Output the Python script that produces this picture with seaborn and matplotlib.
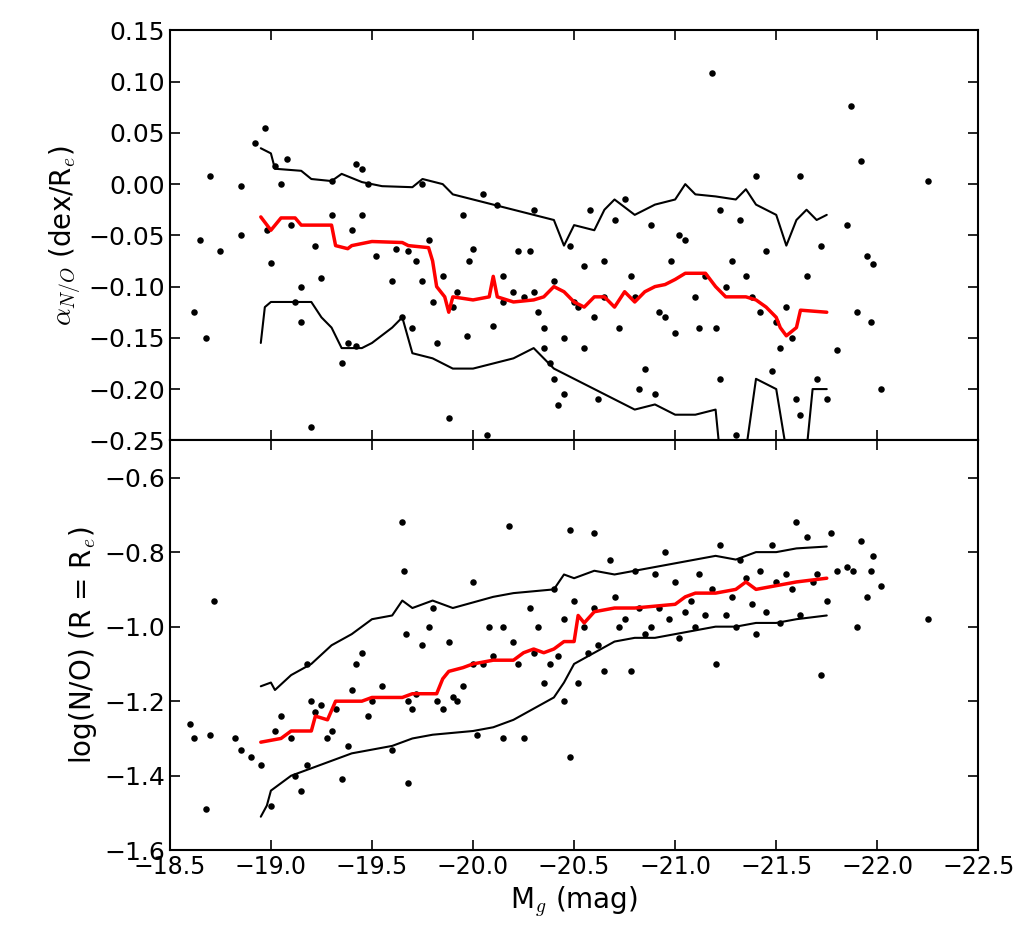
import matplotlib
matplotlib.use("Agg")
import matplotlib.pyplot as plt
import numpy as np
import seaborn as sns

# top panel scatter: M_g, alpha_N/O
top_x = [-18.62, -18.65, -18.68, -18.7, -18.75, -18.85, -18.85, -18.92, -18.97, -18.98, -19.0, -19.02, -19.05,
         -19.08, -19.1, -19.12, -19.15, -19.15, -19.2, -19.22, -19.25, -19.3, -19.3, -19.35, -19.38, -19.4, -19.42,
         -19.42, -19.45, -19.45, -19.48, -19.52, -19.6, -19.62, -19.65, -19.68, -19.7, -19.72, -19.75, -19.75,
         -19.78, -19.8, -19.82, -19.85, -19.88, -19.9, -19.92, -19.95, -19.97, -19.98, -20.0, -20.05, -20.07,
         -20.1, -20.12, -20.15, -20.15, -20.2, -20.22, -20.25, -20.28, -20.3, -20.3, -20.32, -20.35, -20.35,
         -20.38, -20.4, -20.4, -20.42, -20.45, -20.45, -20.48, -20.5, -20.52, -20.55, -20.55, -20.58, -20.6,
         -20.62, -20.65, -20.65, -20.7, -20.72, -20.75, -20.78, -20.8, -20.82, -20.85, -20.88, -20.9, -20.92,
         -20.95, -20.98, -21.0, -21.02, -21.05, -21.1, -21.12, -21.15, -21.18, -21.2, -21.22, -21.25, -21.28,
         -21.3, -21.32, -21.35, -21.38, -21.4, -21.42, -21.45, -21.48, -21.5, -21.52, -21.55, -21.58, -21.6,
         -21.62, -21.65, -21.7, -21.72, -21.75, -21.8, -21.85, -21.87, -21.9, -21.92, -21.95, -21.97, -21.98,
         -22.02, -22.25, -21.62, -21.22]
top_y = [-0.125, -0.055, -0.15, 0.008, -0.065, -0.002, -0.05, 0.04, 0.055, -0.045, -0.077, 0.018, 0.0,
         0.025, -0.04, -0.115, -0.1, -0.135, -0.237, -0.06, -0.092, -0.03, 0.003, -0.175, -0.155, -0.045, -0.158,
         0.02, 0.015, -0.03, 0.0, -0.07, -0.095, -0.063, -0.13, -0.065, -0.14, -0.075, 0.0, -0.095,
         -0.055, -0.115, -0.155, -0.09, -0.228, -0.12, -0.105, -0.03, -0.148, -0.075, -0.063, -0.01, -0.245,
         -0.138, -0.02, -0.09, -0.115, -0.105, -0.065, -0.11, -0.065, -0.105, -0.025, -0.125, -0.16, -0.14,
         -0.175, -0.095, -0.19, -0.216, -0.15, -0.205, -0.06, -0.115, -0.12, -0.16, -0.08, -0.025, -0.13,
         -0.21, -0.075, -0.11, -0.035, -0.14, -0.015, -0.09, -0.11, -0.2, -0.18, -0.04, -0.205, -0.125,
         -0.13, -0.075, -0.145, -0.05, -0.055, -0.11, -0.14, -0.09, 0.108, -0.14, -0.025, -0.1, -0.075,
         -0.245, -0.035, -0.09, -0.11, 0.008, -0.125, -0.065, -0.182, -0.135, -0.16, -0.12, -0.15, -0.21,
         0.008, -0.09, -0.19, -0.06, -0.21, -0.162, -0.04, 0.076, -0.125, 0.023, -0.07, -0.135, -0.078,
         -0.2, 0.003, -0.225, -0.19]

# top running median and envelopes
top_med_x = [-18.95, -19.0, -19.05, -19.12, -19.15, -19.3, -19.32, -19.38, -19.4, -19.45, -19.5, -19.65, -19.68,
             -19.78, -19.8, -19.82, -19.86, -19.88, -19.9, -20.0, -20.08, -20.1, -20.12, -20.2, -20.3, -20.35,
             -20.4, -20.45, -20.5, -20.55, -20.6, -20.65, -20.7, -20.75, -20.8, -20.85, -20.9, -20.95, -21.0,
             -21.05, -21.15, -21.2, -21.25, -21.35, -21.4, -21.45, -21.5, -21.52, -21.55, -21.6, -21.62, -21.75]
top_med_y = [-0.032, -0.045, -0.033, -0.033, -0.04, -0.04, -0.06, -0.063, -0.06, -0.058, -0.056, -0.057, -0.06,
             -0.062, -0.075, -0.1, -0.11, -0.125, -0.11, -0.113, -0.11, -0.09, -0.11, -0.115, -0.113, -0.11,
             -0.1, -0.105, -0.115, -0.12, -0.11, -0.11, -0.12, -0.105, -0.115, -0.105, -0.1, -0.098, -0.093,
             -0.087, -0.087, -0.1, -0.11, -0.11, -0.113, -0.12, -0.13, -0.14, -0.148, -0.14, -0.123, -0.125]
top_hi_x = [-18.95, -19.0, -19.02, -19.15, -19.2, -19.3, -19.35, -19.45, -19.55, -19.7, -19.75, -19.85, -19.9,
            -20.0, -20.1, -20.2, -20.3, -20.4, -20.45, -20.5, -20.6, -20.65, -20.7, -20.8, -20.9, -21.0, -21.05,
            -21.1, -21.2, -21.3, -21.35, -21.4, -21.5, -21.55, -21.6, -21.65, -21.7, -21.75]
top_hi_y = [0.035, 0.03, 0.015, 0.013, 0.005, 0.003, 0.01, 0.002, -0.002, -0.003, 0.005, 0.0, -0.01,
            -0.015, -0.02, -0.025, -0.03, -0.035, -0.06, -0.04, -0.045, -0.025, -0.015, -0.03, -0.02, -0.015, 0.0,
            -0.01, -0.012, -0.015, -0.005, -0.02, -0.03, -0.06, -0.035, -0.025, -0.035, -0.03]
top_lo_x = [-18.95, -18.97, -19.0, -19.2, -19.25, -19.3, -19.35, -19.45, -19.5, -19.6, -19.65, -19.7, -19.8,
            -19.9, -20.0, -20.1, -20.2, -20.3, -20.4, -20.5, -20.6, -20.7, -20.8, -20.9, -21.0, -21.1, -21.2,
            -21.22, -21.35, -21.4, -21.45, -21.5, -21.55, -21.65, -21.68, -21.75]
top_lo_y = [-0.155, -0.12, -0.115, -0.115, -0.13, -0.14, -0.16, -0.16, -0.155, -0.14, -0.13, -0.165, -0.17,
            -0.18, -0.18, -0.175, -0.17, -0.16, -0.18, -0.19, -0.2, -0.21, -0.22, -0.215, -0.225, -0.225, -0.22,
            -0.26, -0.26, -0.19, -0.195, -0.2, -0.26, -0.26, -0.2, -0.2]

# bottom panel scatter: M_g, log(N/O) at Re
bot_x = [-18.6, -18.62, -18.68, -18.7, -18.72, -18.82, -18.85, -18.9, -18.95, -19.0, -19.02, -19.05, -19.1,
         -19.12, -19.15, -19.18, -19.18, -19.2, -19.22, -19.25, -19.28, -19.3, -19.32, -19.35, -19.38, -19.4,
         -19.42, -19.45, -19.48, -19.5, -19.55, -19.6, -19.65, -19.66, -19.67, -19.68, -19.68, -19.7, -19.72,
         -19.75, -19.78, -19.8, -19.82, -19.85, -19.88, -19.9, -19.92, -19.95, -20.0, -20.0, -20.02, -20.05,
         -20.08, -20.1, -20.15, -20.15, -20.18, -20.2, -20.22, -20.25, -20.28, -20.3, -20.32, -20.35, -20.38,
         -20.4, -20.42, -20.45, -20.45, -20.48, -20.48, -20.5, -20.52, -20.55, -20.57, -20.6, -20.6, -20.62,
         -20.65, -20.68, -20.7, -20.72, -20.75, -20.78, -20.8, -20.82, -20.85, -20.88, -20.9, -20.92, -20.95,
         -20.97, -21.0, -21.02, -21.05, -21.08, -21.1, -21.12, -21.15, -21.18, -21.2, -21.22, -21.25, -21.28,
         -21.3, -21.32, -21.35, -21.38, -21.4, -21.42, -21.45, -21.48, -21.5, -21.52, -21.55, -21.58, -21.6,
         -21.62, -21.65, -21.68, -21.7, -21.72, -21.75, -21.77, -21.8, -21.85, -21.88, -21.9, -21.92, -21.95,
         -21.97, -21.98, -22.02, -22.25]
bot_y = [-1.26, -1.3, -1.49, -1.29, -0.93, -1.3, -1.33, -1.35, -1.37, -1.48, -1.28, -1.24, -1.3,
         -1.4, -1.44, -1.37, -1.1, -1.2, -1.23, -1.21, -1.3, -1.28, -1.22, -1.41, -1.32, -1.17,
         -1.1, -1.07, -1.24, -1.2, -1.16, -1.33, -0.72, -0.85, -1.02, -1.2, -1.42, -1.22, -1.18,
         -1.05, -1.0, -0.95, -1.2, -1.22, -1.04, -1.19, -1.2, -1.16, -0.88, -1.1, -1.29, -1.1,
         -1.0, -1.08, -1.0, -1.3, -0.73, -1.04, -1.1, -1.3, -0.95, -1.07, -1.0, -1.15, -1.1,
         -0.9, -1.08, -0.98, -1.2, -0.74, -1.35, -0.93, -1.15, -1.0, -1.07, -0.75, -0.95, -1.05,
         -1.12, -0.82, -0.92, -1.0, -0.98, -1.12, -0.85, -0.95, -1.02, -1.0, -0.86, -0.95, -0.8,
         -0.98, -0.88, -1.03, -0.96, -0.93, -1.0, -0.86, -0.97, -0.9, -1.1, -0.78, -0.97, -0.92,
         -1.0, -0.82, -0.87, -0.94, -1.02, -0.85, -0.96, -0.78, -0.88, -0.99, -0.86, -0.9, -0.72,
         -0.97, -0.76, -0.88, -0.86, -1.13, -0.93, -0.75, -0.85, -0.84, -0.85, -1.0, -0.77, -0.92,
         -0.85, -0.81, -0.89, -0.98]

bot_med_x = [-18.95, -19.05, -19.1, -19.2, -19.22, -19.28, -19.32, -19.45, -19.5, -19.65, -19.7, -19.82, -19.85,
             -19.88, -19.95, -20.0, -20.1, -20.2, -20.25, -20.3, -20.35, -20.4, -20.45, -20.5, -20.52, -20.55,
             -20.6, -20.7, -20.8, -20.9, -21.0, -21.05, -21.1, -21.2, -21.3, -21.35, -21.4, -21.5, -21.6, -21.75]
bot_med_y = [-1.31, -1.3, -1.28, -1.28, -1.24, -1.25, -1.2, -1.2, -1.19, -1.19, -1.18, -1.18, -1.14,
             -1.12, -1.11, -1.1, -1.09, -1.09, -1.07, -1.06, -1.07, -1.06, -1.04, -1.04, -0.97, -0.99,
             -0.96, -0.95, -0.95, -0.945, -0.94, -0.92, -0.91, -0.91, -0.9, -0.88, -0.9, -0.89, -0.88, -0.87]
bot_hi_x = [-18.95, -19.0, -19.02, -19.1, -19.2, -19.3, -19.4, -19.5, -19.6, -19.65, -19.7, -19.8, -19.9,
            -20.0, -20.1, -20.2, -20.3, -20.4, -20.45, -20.5, -20.6, -20.7, -20.8, -20.9, -21.0, -21.1, -21.2,
            -21.3, -21.4, -21.5, -21.6, -21.75]
bot_hi_y = [-1.16, -1.15, -1.17, -1.13, -1.1, -1.05, -1.02, -0.98, -0.97, -0.93, -0.95, -0.93, -0.95,
            -0.935, -0.92, -0.91, -0.905, -0.9, -0.86, -0.87, -0.85, -0.86, -0.85, -0.84, -0.83, -0.82, -0.81,
            -0.82, -0.8, -0.8, -0.79, -0.785]
bot_lo_x = [-18.95, -18.98, -19.0, -19.1, -19.2, -19.3, -19.4, -19.5, -19.6, -19.7, -19.8, -19.9, -20.0,
            -20.1, -20.2, -20.3, -20.4, -20.45, -20.5, -20.6, -20.7, -20.8, -20.9, -21.0, -21.1, -21.2, -21.3,
            -21.4, -21.5, -21.6, -21.75]
bot_lo_y = [-1.51, -1.48, -1.44, -1.4, -1.38, -1.36, -1.34, -1.33, -1.32, -1.3, -1.29, -1.285, -1.28,
            -1.27, -1.25, -1.22, -1.19, -1.15, -1.1, -1.07, -1.04, -1.03, -1.03, -1.02, -1.01, -1.0, -1.0,
            -0.99, -0.99, -0.98, -0.97]

sns.set_style("ticks")
plt.rcParams["font.family"] = ["DejaVu Sans"]
plt.rcParams["font.size"] = 18
plt.rcParams["mathtext.fontset"] = "cm"
plt.rcParams["mathtext.default"] = "it"
for k in ["text.color", "axes.labelcolor", "xtick.color", "ytick.color", "axes.edgecolor"]:
    plt.rcParams[k] = "black"

fig, (ax1, ax2) = plt.subplots(2, 1, figsize=(10.17, 9.5), dpi=100, sharex=True)
fig.subplots_adjust(left=0.167, right=0.962, top=0.968, bottom=0.105, hspace=0)

for ax, sx, sy, med, hi, lo in [
    (ax1, top_x, top_y, (top_med_x, top_med_y), (top_hi_x, top_hi_y), (top_lo_x, top_lo_y)),
    (ax2, bot_x, bot_y, (bot_med_x, bot_med_y), (bot_hi_x, bot_hi_y), (bot_lo_x, bot_lo_y)),
]:
    sns.scatterplot(x=sx, y=sy, ax=ax, color="black", s=22, linewidth=0)
    sns.lineplot(x=hi[0], y=hi[1], ax=ax, color="black", lw=1.5, sort=False, estimator=None)
    sns.lineplot(x=lo[0], y=lo[1], ax=ax, color="black", lw=1.5, sort=False, estimator=None)
    sns.lineplot(x=med[0], y=med[1], ax=ax, color="red", lw=2.5, sort=False, estimator=None)
    ax.tick_params(direction="in", top=True, right=True, length=7, width=1.2, labelsize=18)
    for sp in ax.spines.values():
        sp.set_linewidth(1.5)

ax1.set_xlim(-18.5, -22.5)
ax1.set_ylim(-0.25, 0.15)
ax1.set_yticks(np.arange(-0.25, 0.151, 0.05))
ax1.set_ylabel(r"$\alpha_{N/O}$ (dex/R$_e$)", fontsize=20)
ax2.set_ylim(-1.6, -0.5)
ax2.set_yticks(np.arange(-1.6, -0.59, 0.2))
ax2.set_ylabel(r"log(N/O) (R = R$_e$)", fontsize=20)
ax2.set_xticks(np.arange(-18.5, -22.51, -0.5))
ax2.tick_params(axis="x", labelsize=17)
ax2.set_xlabel(r"M$_g$ (mag)", fontsize=20)

fig.savefig("out.png", dpi=100)
